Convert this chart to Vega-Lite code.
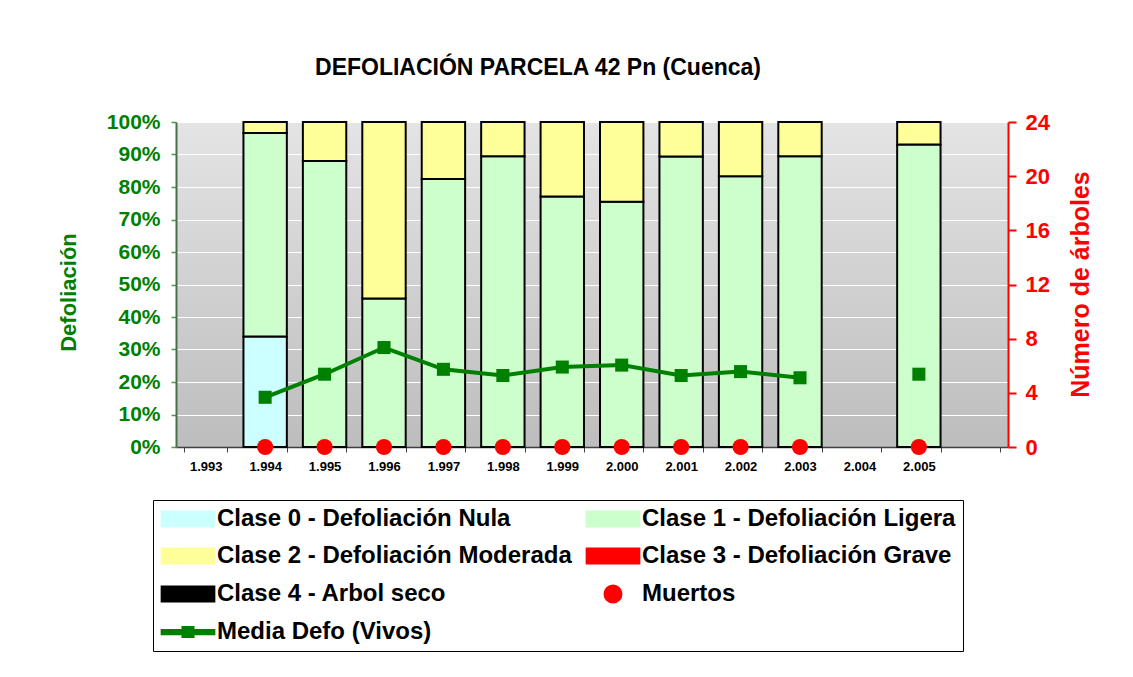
{
  "$schema": "https://vega.github.io/schema/vega-lite/v6.json",
  "width": 832,
  "height": 325,
  "autosize": {"type": "none"},
  "padding": {"left": 176, "top": 122, "right": 125, "bottom": 230},
  "background": "white",
  "title": {
    "text": "DEFOLIACIÓN PARCELA 42 Pn (Cuenca)",
    "font": "Liberation Sans",
    "fontSize": 23,
    "fontWeight": "bold",
    "color": "black",
    "anchor": "middle",
    "dx": -54,
    "offset": 31
  },
  "config": {
    "view": {
      "stroke": null,
      "fill": {
        "gradient": "linear",
        "x1": 0, "y1": 0, "x2": 0, "y2": 1,
        "stops": [
          {"offset": 0, "color": "#e4e4e4"},
          {"offset": 1, "color": "#bdbdbd"}
        ]
      }
    },
    "font": "Liberation Sans"
  },
  "datasets": {
    "barras": [
      {"anio": "1.994", "clase": "Clase 0 - Defoliación Nula", "valor": 0.34},
      {"anio": "1.994", "clase": "Clase 1 - Defoliación Ligera", "valor": 0.626},
      {"anio": "1.994", "clase": "Clase 2 - Defoliación Moderada", "valor": 0.034},
      {"anio": "1.995", "clase": "Clase 1 - Defoliación Ligera", "valor": 0.88},
      {"anio": "1.995", "clase": "Clase 2 - Defoliación Moderada", "valor": 0.12},
      {"anio": "1.996", "clase": "Clase 1 - Defoliación Ligera", "valor": 0.457},
      {"anio": "1.996", "clase": "Clase 2 - Defoliación Moderada", "valor": 0.543},
      {"anio": "1.997", "clase": "Clase 1 - Defoliación Ligera", "valor": 0.825},
      {"anio": "1.997", "clase": "Clase 2 - Defoliación Moderada", "valor": 0.175},
      {"anio": "1.998", "clase": "Clase 1 - Defoliación Ligera", "valor": 0.895},
      {"anio": "1.998", "clase": "Clase 2 - Defoliación Moderada", "valor": 0.105},
      {"anio": "1.999", "clase": "Clase 1 - Defoliación Ligera", "valor": 0.771},
      {"anio": "1.999", "clase": "Clase 2 - Defoliación Moderada", "valor": 0.229},
      {"anio": "2.000", "clase": "Clase 1 - Defoliación Ligera", "valor": 0.755},
      {"anio": "2.000", "clase": "Clase 2 - Defoliación Moderada", "valor": 0.245},
      {"anio": "2.001", "clase": "Clase 1 - Defoliación Ligera", "valor": 0.894},
      {"anio": "2.001", "clase": "Clase 2 - Defoliación Moderada", "valor": 0.106},
      {"anio": "2.002", "clase": "Clase 1 - Defoliación Ligera", "valor": 0.833},
      {"anio": "2.002", "clase": "Clase 2 - Defoliación Moderada", "valor": 0.167},
      {"anio": "2.003", "clase": "Clase 1 - Defoliación Ligera", "valor": 0.895},
      {"anio": "2.003", "clase": "Clase 2 - Defoliación Moderada", "valor": 0.105},
      {"anio": "2.005", "clase": "Clase 1 - Defoliación Ligera", "valor": 0.931},
      {"anio": "2.005", "clase": "Clase 2 - Defoliación Moderada", "valor": 0.069}
    ],
    "anual": [
      {"anio": "1.994", "media": 0.153, "muertos": 0},
      {"anio": "1.995", "media": 0.224, "muertos": 0},
      {"anio": "1.996", "media": 0.306, "muertos": 0},
      {"anio": "1.997", "media": 0.239, "muertos": 0},
      {"anio": "1.998", "media": 0.220, "muertos": 0},
      {"anio": "1.999", "media": 0.246, "muertos": 0},
      {"anio": "2.000", "media": 0.252, "muertos": 0},
      {"anio": "2.001", "media": 0.220, "muertos": 0},
      {"anio": "2.002", "media": 0.232, "muertos": 0},
      {"anio": "2.003", "media": 0.213, "muertos": 0},
      {"anio": "2.004", "media": null, "muertos": null},
      {"anio": "2.005", "media": 0.224, "muertos": 0}
    ]
  },
  "encoding": {
    "x": {
      "field": "anio",
      "type": "ordinal",
      "scale": {
        "domain": ["1.993", "1.994", "1.995", "1.996", "1.997", "1.998", "1.999", "2.000", "2.001", "2.002", "2.003", "2.004", "2.005", " "],
        "paddingInner": 0.27,
        "paddingOuter": 0.135
      },
      "axis": {
        "title": null,
        "labelAngle": 0,
        "labelFont": "Liberation Sans",
        "labelFontSize": 13,
        "labelFontWeight": "bold",
        "labelColor": "black",
        "labelPadding": 8,
        "tickBand": "extent",
        "tickColor": "#404040",
        "tickSize": 5,
        "domainColor": "#404040",
        "domainWidth": 1.5,
        "grid": false
      }
    }
  },
  "layer": [
    {
      "layer": [
        {
          "data": {"name": "barras"},
          "mark": {"type": "bar", "strokeWidth": 2, "opacity": 1},
          "encoding": {
            "y": {
              "field": "valor",
              "type": "quantitative",
              "stack": "zero",
              "scale": {"domain": [0, 1], "nice": false},
              "axis": {
                "title": "Defoliación",
                "format": ".0%",
                "tickCount": 10,
                "labelOverlap": false,
                "labelFont": "Liberation Sans",
                "labelFontSize": 21,
                "labelFontWeight": "bold",
                "labelColor": "#008000",
                "labelPadding": 11,
                "tickColor": "#4c9a4c",
                "tickSize": 5,
                "tickWidth": 1.5,
                "domainColor": "#4a6e4a",
                "domainWidth": 2,
                "grid": true,
                "gridColor": "white",
                "gridWidth": 1.2,
                "titleColor": "#008000",
                "titleFont": "Liberation Sans",
                "titleFontSize": 22,
                "titleFontWeight": "bold",
                "titleAngle": 270,
                "titleBaseline": "middle",
                "titleAlign": "center",
                "titleX": -108,
                "titleY": 170
              }
            },
            "order": {"field": "clase", "type": "nominal", "sort": "ascending"},
            "stroke": {
              "field": "clase",
              "type": "nominal",
              "scale": {
                "domain": [
                  "Clase 0 - Defoliación Nula",
                  "Clase 1 - Defoliación Ligera",
                  "Clase 2 - Defoliación Moderada",
                  "Clase 3 - Defoliación Grave",
                  "Clase 4 - Arbol seco",
                  "Muertos",
                  "Media Defo (Vivos)"
                ],
                "range": ["#000000", "#000000", "#000000", "#000000", "#000000", "transparent", "transparent"]
              },
              "legend": {
                "title": null,
                "orient": "none",
                "legendX": -23,
                "legendY": 378,
                "direction": "horizontal",
                "columns": 2,
                "strokeColor": "black",
                "padding": 7,
                "labelFont": "Liberation Sans",
                "labelFontSize": 24,
                "labelFontWeight": "bold",
                "labelColor": "black",
                "labelLimit": 600,
                "symbolSize": 289,
                "symbolOffset": 16,
                "labelOffset": 17,
                "rowPadding": 13,
                "columnPadding": 10,
                "symbolOpacity": 1,
                "symbolStrokeWidth": 2,
                "symbolStrokeColor": {"expr": "datum.value == 'Muertos' || datum.value == 'Media Defo (Vivos)' ? 'transparent' : '#000000'"},
                "symbolType": {"expr": "datum.value == 'Muertos' ? 'M1,0A1,1,0,1,1,-1,0A1,1,0,1,1,1,0Z' : datum.value == 'Media Defo (Vivos)' ? 'M-3.1,-0.25H-0.65V-0.6H0.65V-0.25H3.1V0.25H0.65V0.6H-0.65V0.25H-3.1Z' : 'M-3.1,-0.88H3.1V0.88H-3.1Z'"}
              }
            },
            "color": {
              "field": "clase",
              "type": "nominal",
              "scale": {
                "domain": [
                  "Clase 0 - Defoliación Nula",
                  "Clase 1 - Defoliación Ligera",
                  "Clase 2 - Defoliación Moderada",
                  "Clase 3 - Defoliación Grave",
                  "Clase 4 - Arbol seco",
                  "Muertos",
                  "Media Defo (Vivos)"
                ],
                "range": ["#CCFFFF", "#CCFFCC", "#FFFF99", "#FF0000", "#000000", "#FF0000", "#008000"]
              },
              "legend": {
                "title": null,
                "orient": "none",
                "legendX": -23,
                "legendY": 378,
                "direction": "horizontal",
                "columns": 2,
                "strokeColor": "black",
                "padding": 7,
                "labelFont": "Liberation Sans",
                "labelFontSize": 24,
                "labelFontWeight": "bold",
                "labelColor": "black",
                "labelLimit": 600,
                "symbolSize": 289,
                "symbolOffset": 16,
                "labelOffset": 17,
                "rowPadding": 13,
                "columnPadding": 10,
                "symbolOpacity": 1,
                "symbolStrokeWidth": 2,
                "symbolStrokeColor": {"expr": "datum.value == 'Muertos' || datum.value == 'Media Defo (Vivos)' ? 'transparent' : '#000000'"},
                "symbolType": {"expr": "datum.value == 'Muertos' ? 'M1,0A1,1,0,1,1,-1,0A1,1,0,1,1,1,0Z' : datum.value == 'Media Defo (Vivos)' ? 'M-3.1,-0.25H-0.65V-0.6H0.65V-0.25H3.1V0.25H0.65V0.6H-0.65V0.25H-3.1Z' : 'M-3.1,-0.88H3.1V0.88H-3.1Z'"}
              }
            }
          }
        },
        {
          "data": {"name": "anual"},
          "mark": {"type": "line", "strokeWidth": 4, "invalid": "break-paths-show-domains"},
          "encoding": {
            "y": {"field": "media", "type": "quantitative", "title": "Defoliación"},
            "color": {"datum": "Media Defo (Vivos)", "legend": null}
          }
        },
        {
          "data": {"name": "anual"},
          "mark": {"type": "point", "shape": "square", "filled": true, "size": 170, "opacity": 1},
          "encoding": {
            "y": {"field": "media", "type": "quantitative", "title": "Defoliación"},
            "color": {"datum": "Media Defo (Vivos)", "legend": null}
          }
        }
      ]
    },
    {
      "data": {"name": "anual"},
      "mark": {"type": "point", "shape": "circle", "filled": true, "size": 260, "opacity": 1},
      "encoding": {
        "y": {
          "field": "muertos",
          "type": "quantitative",
          "scale": {"domain": [0, 24], "nice": false},
          "axis": {
            "orient": "right",
            "title": "Número de árboles",
            "tickCount": 12,
            "labelOverlap": false,
            "labelExpr": "datum.value % 4 == 0 ? datum.label : ''",
            "tickOpacity": {"condition": {"test": "datum.value % 4 != 0", "value": 0}, "value": 1},
            "labelFont": "Liberation Sans",
            "labelFontSize": 22,
            "labelFontWeight": "bold",
            "labelColor": "#FF0000",
            "labelPadding": 9,
            "tickColor": "#FF0000",
            "tickSize": 8,
            "tickWidth": 2,
            "domainColor": "#FF0000",
            "domainWidth": 2,
            "grid": false,
            "titleColor": "#FF0000",
            "titleFont": "Liberation Sans",
            "titleFontSize": 25,
            "titleFontWeight": "bold",
            "titleAngle": 270,
            "titleBaseline": "middle",
            "titleAlign": "center",
            "titleX": 72,
            "titleY": 162
          }
        },
        "color": {"datum": "Muertos", "legend": null}
      }
    }
  ],
  "resolve": {"scale": {"y": "independent"}}
}
